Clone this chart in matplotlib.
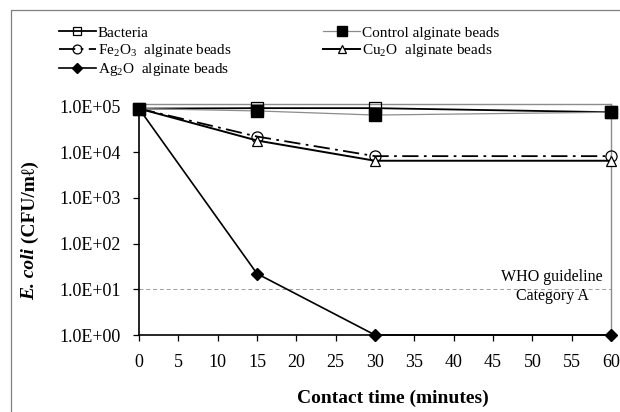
import matplotlib
matplotlib.use("Agg")
import matplotlib.pyplot as plt
from matplotlib.patches import Rectangle

plt.rcParams['font.family'] = ['Liberation Serif', 'DejaVu Serif']
plt.rcParams['mathtext.fontset'] = 'custom'
plt.rcParams['mathtext.rm'] = 'Liberation Serif'
plt.rcParams['mathtext.it'] = 'Liberation Serif:italic'
plt.rcParams['mathtext.bf'] = 'Liberation Serif:bold'

# ---- data ----
time_min = [0, 15, 30, 60]
bacteria = [9.0e4, 9.2e4, 9.2e4, 7.5e4]
control = [9.0e4, 8.0e4, 6.5e4, 7.5e4]
fe2o3 = [9.0e4, 2.2e4, 8.2e3, 8.2e3]
cu2o = [9.0e4, 1.8e4, 6.5e3, 6.5e3]
ag2o = [9.0e4, 22, 1.0, 1.0]
who_guideline = 10
x_ticks = list(range(0, 61, 5))
y_ticks = [1e0, 1e1, 1e2, 1e3, 1e4, 1e5]
y_tick_labels = ['1.0E+00', '1.0E+01', '1.0E+02', '1.0E+03', '1.0E+04', '1.0E+05']

W, H = 620, 412
fig = plt.figure(figsize=(W / 100, H / 100), dpi=100)

# outer chart border
fig.add_artist(Rectangle((11 / W, -0.2), 1.5, 1.2 - 10 / H, transform=fig.transFigure,
                         fill=False, edgecolor='#7f7f7f', lw=0.9))

ax = fig.add_axes([139 / W, 1 - 335 / H, (611 - 139) / W, (335 - 104) / H])
ax.set_yscale('log')
ax.set_xlim(0, 60)
ax.set_ylim(1, 1.134e5)

ax.axhline(who_guideline, color='#9a9a9a', lw=0.7, ls=(0, (4, 3)), zorder=1)

l_bac, = ax.plot(time_min, bacteria, color='black', lw=1.3, marker='s', ms=8,
                 mfc='none', mec='black', mew=0.9, clip_on=False, zorder=3,
                 label='Bacteria')
l_ctl, = ax.plot(time_min, control, color='#8c8c8c', lw=0.9, marker='s', ms=9,
                 mfc='black', mec='black', clip_on=False, zorder=4,
                 label='Control alginate beads')
l_fe, = ax.plot(time_min, fe2o3, color='black', lw=1.3, ls=(0, (9, 3, 1.5, 3)),
                marker='o', ms=8, mfc='none', mec='black', mew=0.9,
                clip_on=False, zorder=3,
                label=r'Fe$_2$O$_3$  alginate beads')
l_cu, = ax.plot(time_min, cu2o, color='black', lw=1.4, marker='^', ms=7,
                mfc='white', mec='black', mew=0.9, clip_on=False, zorder=3,
                label=r'Cu$_2$O  alginate beads')
l_ag, = ax.plot(time_min, ag2o, color='black', lw=1.2, marker='D', ms=6.5,
                mfc='black', mec='black', clip_on=False, zorder=5,
                label=r'Ag$_2$O  alginate beads')

ax.text(52.5, 18.6, 'WHO guideline', ha='center', va='center', fontsize=11.5)
ax.text(52.5, 7.1, 'Category A', ha='center', va='center', fontsize=11.5)

ax.set_xticks(x_ticks)
ax.set_yticks(y_ticks)
ax.set_yticklabels(y_tick_labels)
ax.minorticks_off()
ax.tick_params(axis='both', direction='out', length=4, width=0.9, labelsize=13)
ax.tick_params(axis='x', pad=10)
ax.tick_params(axis='y', pad=9)

for s in ['left', 'bottom']:
    ax.spines[s].set_color('black')
    ax.spines[s].set_linewidth(1.2)
for s in ['top', 'right']:
    ax.spines[s].set_color('#8c8c8c')
    ax.spines[s].set_linewidth(1.0)

fig.text(393 / W, 1 - 398 / H, 'Contact time (minutes)', ha='center', va='center',
         fontsize=14, fontweight='bold')

t1 = fig.text(30 / W, 1 - 300 / H, 'E. coli', rotation=90, ha='center', va='bottom',
              fontsize=14, fontweight='bold', fontstyle='italic')
ax.annotate(' (CFU/m\u2113)', xy=(0.5, 1.0), xycoords=t1, rotation=90,
            ha='center', va='bottom', fontsize=14, fontweight='bold',
            annotation_clip=False)

handles = [l_bac, l_fe, l_ag, l_ctl, l_cu]
fig.legend(handles=handles, labels=[h.get_label() for h in handles], ncol=2,
           loc='upper left', bbox_to_anchor=(59 / W, 1 - 26 / H),
           frameon=False, fontsize=11, handlelength=2.4, handletextpad=0.15,
           columnspacing=6.0, labelspacing=0.15, markerscale=0.8,
           borderaxespad=0, borderpad=0)

fig.savefig('out.png', dpi=100)
